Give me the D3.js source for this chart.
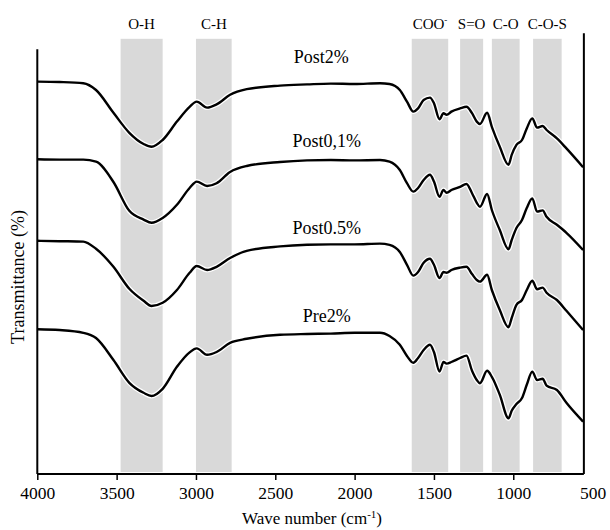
<!DOCTYPE html>
<html>
<head>
<meta charset="utf-8">
<script src="https://cdn.jsdelivr.net/npm/d3@7"></script>
<style>
  body { margin: 0; background: #fff; }
  svg text { font-family: "Liberation Serif", "Times New Roman", serif; fill: #000; }
</style>
</head>
<body>
<svg id="chart" width="610" height="530"></svg>
<script>
// wave numbers (cm-1) shared by all spectra
var waveNumbers = [4000, 3860, 3710, 3630, 3520, 3420, 3330, 3280, 3210, 3120, 3040, 2995, 2930, 2870, 2785, 2680, 2470, 2300, 2150, 2000, 1840,
  1780, 1715, 1670, 1630, 1600, 1565, 1525, 1500, 1465, 1440, 1420, 1390, 1335, 1295, 1260, 1230, 1210, 1165, 1135, 1085, 1030, 1010, 980, 945, 915, 880, 850, 815, 790, 725, 665, 560];

// transmittance (stacked, arbitrary units)
var post2 = [98.1, 98.0, 97.7, 96.0, 90.3, 85.3, 82.5, 81.8, 83.5, 88.1, 91.8, 93.1, 91.6, 92.4, 94.8, 96.2, 97.1, 97.4, 97.6, 97.5, 97.7,
  97.5, 96.0, 93.1, 90.6, 91.4, 93.5, 94.1, 92.7, 88.7, 90.2, 89.8, 90.6, 91.4, 91.8, 90.2, 88.1, 87.5, 90.3, 86.8, 81.8, 77.3, 79.8, 82.3, 83.5, 86.4, 88.9, 86.6, 87.0, 86.0, 83.9, 81.4, 76.7];
var post01 = [78.7, 78.6, 78.6, 78.1, 73.0, 65.8, 63.6, 62.8, 64.0, 67.3, 71.5, 73.1, 72.0, 72.7, 75.5, 77.0, 78.0, 78.4, 78.5, 78.4, 78.5,
  78.1, 76.0, 72.7, 70.6, 71.5, 73.5, 74.8, 73.1, 69.3, 71.0, 70.3, 71.0, 71.8, 72.5, 70.2, 67.8, 66.8, 70.0, 66.0, 61.0, 56.2, 58.5, 61.5, 63.5, 66.5, 68.9, 65.6, 65.9, 64.3, 62.3, 60.3, 56.0];
var post05 = [58.3, 58.2, 58.1, 56.3, 51.8, 46.3, 43.3, 42.0, 42.8, 46.0, 50.3, 52.0, 51.0, 51.8, 54.0, 55.8, 56.9, 57.3, 57.4, 57.4, 57.6,
  57.3, 55.5, 52.3, 49.6, 50.5, 52.8, 53.8, 52.3, 49.0, 50.5, 50.3, 51.0, 51.6, 51.8, 50.0, 48.5, 48.1, 49.8, 46.0, 41.0, 36.7, 39.0, 42.3, 43.5, 46.0, 48.3, 46.2, 46.6, 45.3, 43.5, 40.8, 36.0];
var pre2 = [36.2, 36.0, 35.3, 34.0, 28.5, 22.8, 20.3, 19.5, 21.3, 26.8, 30.4, 31.4, 29.8, 30.5, 32.8, 33.8, 34.8, 35.0, 35.1, 35.3, 35.3,
  34.5, 32.3, 29.5, 27.8, 29.0, 31.0, 32.3, 30.5, 25.6, 28.0, 27.6, 28.0, 29.0, 29.6, 25.8, 23.5, 22.7, 25.8, 24.3, 19.8, 13.9, 15.8, 17.5, 19.0, 22.3, 25.6, 23.5, 23.8, 22.1, 21.0, 17.8, 13.1];

var seriesNames = ["Post2%", "Post0,1%", "Post0.5%", "Pre2%"];
var seriesValues = [post2, post01, post05, pre2];
var labelLevels = [102.7, 81.7, 60, 38];

// absorption bands: [from, to] in cm-1
var bandNames = ["O-H", "C-H", "COO", "S=O", "C-O", "C-O-S"];
var bandRanges = [[3475, 3210], [3000, 2775], [1640, 1410], [1335, 1190], [1135, 960], [875, 695]];

var xTicks = [4000, 3500, 3000, 2500, 2000, 1500, 1000, 500];

function drawChart(){
  var svg = d3.select("#chart");

  var x = d3.scaleLinear().domain([4000, 500]).range([37.3, 592.6]);
  var y = d3.scaleLinear().domain([0, 110]).range([474, 34]);

  // grey bands
  svg.selectAll(".band")
      .data(bandRanges)
    .enter().append("rect")
      .attr("class", "band")
      .attr("x", function(d) { return x(d[0]); })
      .attr("width", function(d) { return x(d[1]) - x(d[0]); })
      .attr("y", y(108.8))
      .attr("height", y(0.5) - y(108.8))
      .attr("fill", "#d9d9d9");

  // band labels
  svg.selectAll(".bandLabel")
      .data(bandNames)
    .enter().append("text")
      .attr("class", "bandLabel")
      .attr("x", function(d, i) { return (x(bandRanges[i][0]) + x(bandRanges[i][1])) / 2; })
      .attr("y", y(111.2))
      .attr("text-anchor", "middle")
      .style("font-size", "15px")
      .each(function(d) {
        var t = d3.select(this);
        t.append("tspan").text(d);
        if (d === "COO") {
          t.append("tspan").attr("dy", -6).style("font-size", "9px").text("-");
        }
      });

  // spectra
  var line = d3.line()
      .x(function(d, i) { return x(waveNumbers[i]); })
      .y(function(d) { return y(d); })
      .curve(d3.curveMonotoneX);

  svg.selectAll(".halo")
      .data(seriesValues)
    .enter().append("path")
      .attr("class", "halo")
      .attr("d", line)
      .attr("fill", "none")
      .attr("stroke", "#fff")
      .attr("stroke-width", 5);

  svg.selectAll(".spectrum")
      .data(seriesValues)
    .enter().append("path")
      .attr("class", "spectrum")
      .attr("d", line)
      .attr("fill", "none")
      .attr("stroke", "#000")
      .attr("stroke-width", 2.4)
      .attr("stroke-linejoin", "round");

  // series labels
  svg.selectAll(".seriesLabel")
      .data(seriesNames)
    .enter().append("text")
      .attr("class", "seriesLabel")
      .attr("x", function(d, i) { return i === 0 ? x(2210) : x(2175); })
      .attr("y", function(d, i) { return y(labelLevels[i]); })
      .attr("text-anchor", "middle")
      .style("font-size", "18px")
      .text(function(d) { return d; });

  // x axis
  var xAxis = svg.append("g")
      .attr("transform", "translate(0," + y(0) + ")")
      .call(d3.axisBottom(x).tickValues(xTicks).tickSize(6).tickSizeOuter(0).tickFormat(d3.format("d")));
  xAxis.select(".domain").remove();
  xAxis.selectAll(".tick line").attr("stroke", "#000").attr("stroke-width", 1.5)
      .filter(function(d) { return d === 500; }).remove();
  xAxis.selectAll(".tick text")
      .attr("y", 13)
      .style("font-size", "17.5px")
      .style("font-family", "'Liberation Serif', 'Times New Roman', serif")
      .attr("fill", "#000");

  // frame lines: bottom, left, right
  svg.append("line")
      .attr("x1", x(4000)).attr("x2", x(555))
      .attr("y1", y(0)).attr("y2", y(0))
      .attr("stroke", "#000").attr("stroke-width", 2);
  svg.append("line")
      .attr("x1", x(4000)).attr("x2", x(4000))
      .attr("y1", y(106.2)).attr("y2", y(0))
      .attr("stroke", "#000").attr("stroke-width", 2);
  svg.append("line")
      .attr("x1", x(555)).attr("x2", x(555))
      .attr("y1", y(110.2)).attr("y2", y(0))
      .attr("stroke", "#000").attr("stroke-width", 2);

  // axis titles
  var xTitle = svg.append("text")
      .attr("x", 312)
      .attr("y", 524)
      .attr("text-anchor", "middle")
      .style("font-size", "17px");
  xTitle.append("tspan").text("Wave number (cm");
  xTitle.append("tspan").attr("dy", -6).style("font-size", "11px").text("-1");
  xTitle.append("tspan").attr("dy", 6).text(")");

  svg.append("text")
      .attr("transform", "translate(24,277) rotate(-90)")
      .attr("text-anchor", "middle")
      .style("font-size", "18px")
      .text("Transmittance (%)");
}

drawChart();
</script>
</body>
</html>
